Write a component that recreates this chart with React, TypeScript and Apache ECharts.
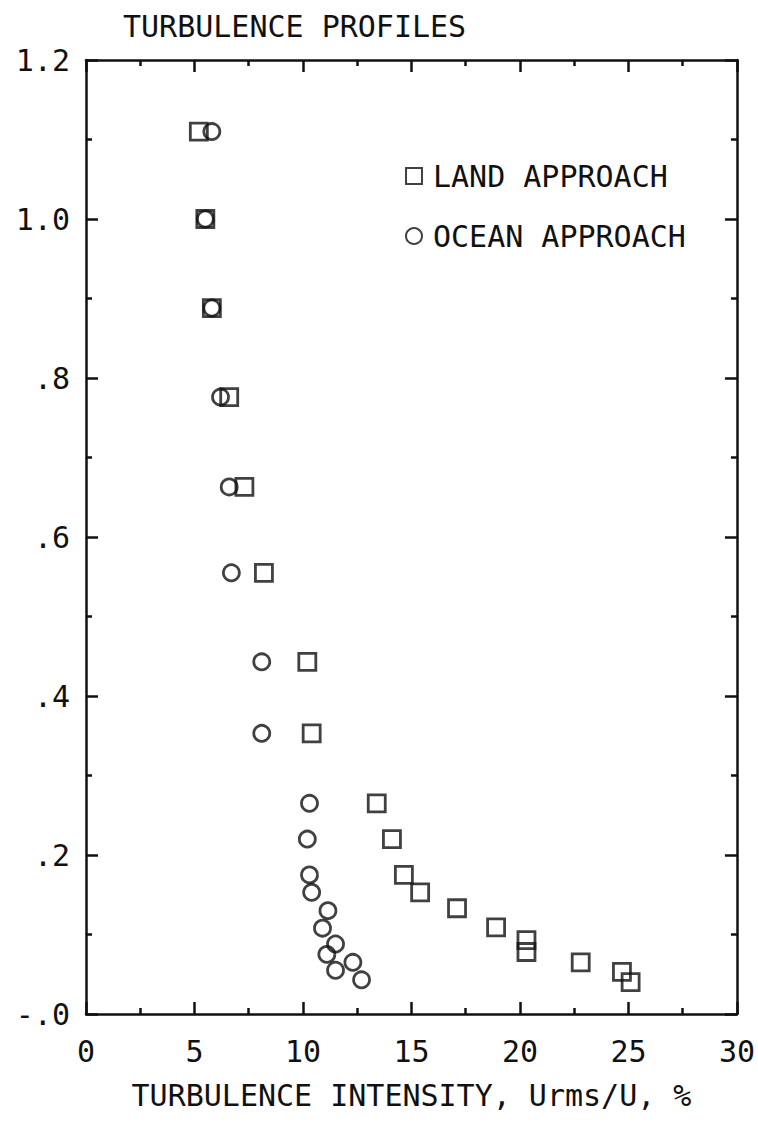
import React, { useEffect, useRef } from "react";
import * as echarts from "echarts";

// Turbulence intensity (%) versus height, two approach directions
const landX = [5.2, 5.5, 5.8, 6.6, 7.3, 8.2, 10.2, 10.4, 13.4, 14.1, 14.65, 15.4, 17.1, 18.9, 20.3, 20.3, 22.8, 24.7, 25.1];
const landY = [1.11, 1.0, 0.888, 0.776, 0.663, 0.555, 0.443, 0.353, 0.265, 0.22, 0.175, 0.153, 0.133, 0.109, 0.093, 0.078, 0.065, 0.053, 0.04];

const oceanX = [5.8, 5.5, 5.8, 6.2, 6.6, 6.7, 8.1, 8.1, 10.3, 10.2, 10.3, 10.4, 11.15, 10.9, 11.5, 11.1, 11.5, 12.3, 12.7];
const oceanY = [1.11, 1.0, 0.888, 0.776, 0.663, 0.555, 0.443, 0.353, 0.265, 0.22, 0.175, 0.153, 0.13, 0.108, 0.088, 0.075, 0.055, 0.065, 0.043];

const seriesNames = ["LAND APPROACH", "OCEAN APPROACH"];
const titleText = "TURBULENCE PROFILES";
const xAxisTitle = "TURBULENCE INTENSITY, Urms/U, %";

const FONT = "'DejaVu Sans Mono', monospace";
const INK = "#111";

function yLabel(v: number): string {
  if (Math.abs(v) < 1e-9) return "-.0";
  if (v < 1) return "." + Math.round(v * 10);
  return v.toFixed(1);
}

export default function App() {
  const ref = useRef<HTMLDivElement>(null);

  useEffect(() => {
    if (!ref.current) return;
    const chart = echarts.init(ref.current, null, { renderer: "svg" });

    const tickCommon = {
      axisLine: { show: true, onZero: false, lineStyle: { color: INK, width: 2.5 } },
      axisTick: { show: true, inside: true, length: 12, lineStyle: { color: INK, width: 2.5 } },
      minorTick: { show: true, splitNumber: 2, length: 6, lineStyle: { color: INK, width: 2.5 } },
      splitLine: { show: false },
    };

    const hollow = { color: "rgba(0,0,0,0)", borderColor: INK, borderWidth: 2.8 };

    chart.setOption({
      animation: false,
      backgroundColor: "#fff",
      title: {
        text: titleText,
        left: 118,
        top: 6,
        textStyle: { fontFamily: FONT, fontSize: 30, fontWeight: "normal", color: INK },
      },
      legend: {
        data: seriesNames,
        orient: "vertical",
        left: 400,
        top: 156,
        itemGap: 30,
        itemWidth: 16,
        itemHeight: 16,
        textStyle: { fontFamily: FONT, fontSize: 30, color: INK, padding: [0, 0, 0, 6] },
      },
      grid: { left: 86, top: 60, right: 20, bottom: 116, containLabel: false },
      xAxis: [
        {
          type: "value",
          min: 0,
          max: 30,
          interval: 5,
          position: "bottom",
          name: xAxisTitle,
          nameLocation: "middle",
          nameGap: 66,
          nameTextStyle: { fontFamily: FONT, fontSize: 30, color: INK },
          axisLabel: { fontFamily: FONT, fontSize: 30, color: INK, margin: 22 },
          ...tickCommon,
        },
        {
          type: "value",
          min: 0,
          max: 30,
          interval: 5,
          position: "top",
          axisLabel: { show: false },
          ...tickCommon,
        },
      ],
      yAxis: [
        {
          type: "value",
          min: 0,
          max: 1.2,
          interval: 0.2,
          position: "left",
          axisLabel: {
            fontFamily: FONT,
            fontSize: 30,
            color: INK,
            margin: 16,
            formatter: (v: number) => yLabel(v),
          },
          ...tickCommon,
        },
        {
          type: "value",
          min: 0,
          max: 1.2,
          interval: 0.2,
          position: "right",
          axisLabel: { show: false },
          ...tickCommon,
        },
      ],
      series: [
        {
          name: seriesNames[0],
          type: "scatter",
          symbol: "rect",
          symbolSize: 17,
          itemStyle: hollow,
          data: landX.map((x, i) => [x, landY[i]]),
          z: 3,
        },
        {
          name: seriesNames[1],
          type: "scatter",
          symbol: "circle",
          symbolSize: 16,
          itemStyle: hollow,
          data: oceanX.map((x, i) => [x, oceanY[i]]),
          z: 4,
        },
      ],
    });

    return () => chart.dispose();
  }, []);

  return (
    <div
      ref={ref}
      style={{ position: "fixed", left: 0, top: 0, width: 758, height: 1130, background: "#fff" }}
    />
  );
}
